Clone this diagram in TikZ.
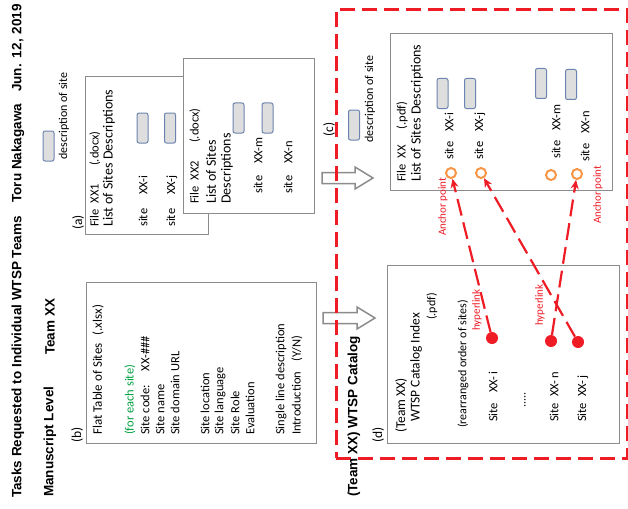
\documentclass[tikz,border=0pt]{standalone}
\usepackage{fontspec}
\setmainfont{Carlito}
\newfontfamily\hdfont{Liberation Sans}
\usetikzlibrary{arrows.meta}
\definecolor{boxgray}{HTML}{8C8C8C}
\definecolor{myred}{HTML}{EE1C25}
\definecolor{myorange}{HTML}{F79646}
\definecolor{rectfill}{HTML}{DEDEDE}
\definecolor{rectline}{HTML}{6C84B0}
\definecolor{mygreen}{HTML}{00A040}
\begin{document}
\begin{tikzpicture}[x=1pt,y=-1pt,
  vt/.style={rotate=90, anchor=west, inner sep=0pt, font=\fontsize{12}{14}\selectfont},
  vtb/.style={vt, font=\fontsize{12.5}{14}\selectfont},
  vtbig/.style={vt, font=\fontsize{14}{16}\selectfont},
  vtmid/.style={vt, font=\fontsize{13.5}{16}\selectfont},
  hd/.style={vt, font=\hdfont\bfseries\fontsize{13.5}{16}\selectfont},
  redtxt/.style={rotate=90, inner sep=0pt, text=myred, font=\fontsize{11}{13}\selectfont},
  docbox/.style={draw=boxgray, line width=1.3pt, fill=white, anchor=north west, inner sep=0pt},
  srect/.style={draw=rectline, fill=rectfill, rounded corners=2pt, line width=1pt, minimum width=11pt, minimum height=30pt, inner sep=0pt},
  anc/.style={circle, draw=myorange, line width=2pt, minimum size=10pt, inner sep=0pt},
  reddot/.style={circle, fill=myred, minimum size=12pt, inner sep=0pt},
  redarr/.style={myred, line width=2.2pt, dash pattern=on 17pt off 7pt, -{Stealth[length=9pt,width=8pt]}},
  blockarr/.style={draw=boxgray, fill=white, line width=1.5pt, line join=miter}
]
\useasboundingbox (0,0) rectangle (628,508);
% headings
\node[hd] (title) at (18,498) {Tasks Requested to Individual WTSP Teams};
\node[hd, anchor=east] (author) at (18,4) {Toru Nakagawa\hspace{12pt}Jun.\hspace{6pt}12,\hspace{5pt}2019};
\node[hd] (level) at (50,497) {Manuscript Level};
\node[hd] (team) at (50,355) {Team XX};

% box (b)
\node[vtmid] (lb) at (77,443) {(b)};
\node[docbox, minimum width=230pt, minimum height=161pt] (boxb) at (86,282) {};
\node[vt, font=\fontsize{13}{15}\selectfont] (b1) at (98,435) {Flat Table of Sites\hspace{8pt}(.xlsx)};
\node[vtb, text=mygreen] (b2) at (130,435) {(for each site)};
\node[vtb] (b3) at (145,435) {Site code:\hspace{14pt}XX-\#\#\#};
\node[vtb] (b4) at (160,435) {Site name};
\node[vtb] (b5) at (175,435) {Site domain URL};
\node[vtb] (b6) at (205,435) {Site location};
\node[vtb] (b7) at (220,435) {Site language};
\node[vtb] (b8) at (235,435) {Site Role};
\node[vtb] (b9) at (250,435) {Evaluation};
\node[vtb] (b10) at (281,435) {Single line description};
\node[vtb] (b11) at (297,435) {Introduction\hspace{10pt}(Y/N)};

% description of site legend (top-left)
\node[srect] (leg1) at (48.5,146) {};
\node[vt] (legt1) at (64,160) {description of site};

% box (a)
\node[vtmid] (la) at (78,230) {(a)};
\node[docbox, minimum width=123pt, minimum height=158pt] (boxa) at (85,76) {};
\node[vtb] (a1) at (95,227) {File\hspace{6pt}XX1\hspace{18pt}(.docx)};
\node[vtbig] (a2) at (109,227) {List of Sites Descriptions};
\node[srect] (ar1) at (142.5,128) {};
\node[srect] (ar2) at (170,128) {};
\node[vtb] (a3) at (143,227) {site\hspace{14pt}XX-i};
\node[vtb] (a4) at (172,227) {site\hspace{14pt}XX-j};

% box XX2
\node[docbox, minimum width=131pt, minimum height=155pt] (boxa2) at (183,58) {};
\node[vtb] (c1) at (195,204) {File\hspace{6pt}XX2\hspace{18pt}(.docx)};
\node[vtbig] (c2) at (211,204) {List of Sites};
\node[vtbig] (c3) at (227,204) {Descriptions};
\node[srect] (cr1) at (238.5,118) {};
\node[srect] (cr2) at (267.5,118) {};
\node[vtb] (c4) at (258,194) {site\hspace{12pt}XX-m};
\node[vtb] (c5) at (288,194) {site\hspace{12pt}XX-n};

% block arrows
\draw[blockarr] (322,172.5) -- (355,172.5) -- (355,167) -- (373,178) -- (355,189) -- (355,183.5) -- (322,183.5) -- cycle;
\draw[blockarr] (323,312.5) -- (357,312.5) -- (357,307) -- (375,318) -- (357,329) -- (357,323.5) -- (323,323.5) -- cycle;

% red dashed frame
\node[draw=myred, line width=2.6pt, dash pattern=on 15pt off 7pt, anchor=north west, minimum width=291pt, minimum height=449pt, inner sep=0pt] (frame) at (335,8) {};

% (c)
\node[vtmid] (lc) at (329,137) {(c)};
\node[srect] (leg2) at (354,125) {};
\node[vt] (legt2) at (370,143) {description of site};
\node[docbox, minimum width=222pt, minimum height=157pt] (boxc) at (390,33) {};
\node[vtb] (p1) at (402,182) {File\hspace{6pt}XX\hspace{16pt}(.pdf)};
\node[vtbig] (p2) at (417,182) {List of Sites Descriptions};
\node[srect] (pr1) at (442.5,93.5) {};
\node[srect] (pr2) at (470,93.5) {};
\node[srect] (pr3) at (541,83.5) {};
\node[srect] (pr4) at (571,84.5) {};
\node[vtb] (p3) at (449,160) {site\hspace{10pt}XX-i};
\node[vtb] (p4) at (480,160) {site\hspace{10pt}XX-j};
\node[vtb] (p5) at (556,159) {site\hspace{10pt}XX-m};
\node[vtb] (p6) at (585,162) {site\hspace{10pt}XX-n};
\node[anc] (o1) at (451,173) {};
\node[anc] (o2) at (481,173) {};
\node[anc] (o3) at (551,175) {};
\node[anc] (o4) at (577,174) {};
\node[redtxt, anchor=west] (ap1) at (443,236) {Anchor point};
\node[redtxt, anchor=west] (ap2) at (598,224) {Anchor point};

% (d)
\node[hd] (catalog) at (354,497) {(Team XX) WTSP Catalog};
\node[vtmid] (ld) at (378,443) {(d)};
\node[docbox, minimum width=232pt, minimum height=178pt] (boxd) at (387,265) {};
\node[vtmid] (d1t) at (401,433) {(Team XX)};
\node[vtmid] (d2t) at (416,422) {WTSP Catalog Index};
\node[vt] (d3t) at (432,320) {(.pdf)};
\node[vt] (d4t) at (463,428) {(rearranged order of sites)};
\node[vtb] (d5t) at (493,422) {Site\hspace{10pt}XX-\hspace{2pt}i};
\node[vt] (d6t) at (525,408) {.....};
\node[vtb] (d7t) at (554,422) {Site\hspace{6pt}XX-\hspace{2pt}n};
\node[vtb] (d8t) at (583,422) {Site\hspace{6pt}XX-\hspace{2pt}j};
\node[reddot] (h1) at (492,338) {};
\node[reddot] (h2) at (551,341) {};
\node[reddot] (h3) at (578,342) {};
\node[redtxt] (hl1) at (477,310) {hyperlink};
\node[redtxt] (hl2) at (540,305) {hyperlink};

% hyperlinks
\draw[redarr] (h1) -- (o1);
\draw[redarr] (h3) -- (o2);
\draw[redarr] (h2) -- (o4);
\end{tikzpicture}
\end{document}
